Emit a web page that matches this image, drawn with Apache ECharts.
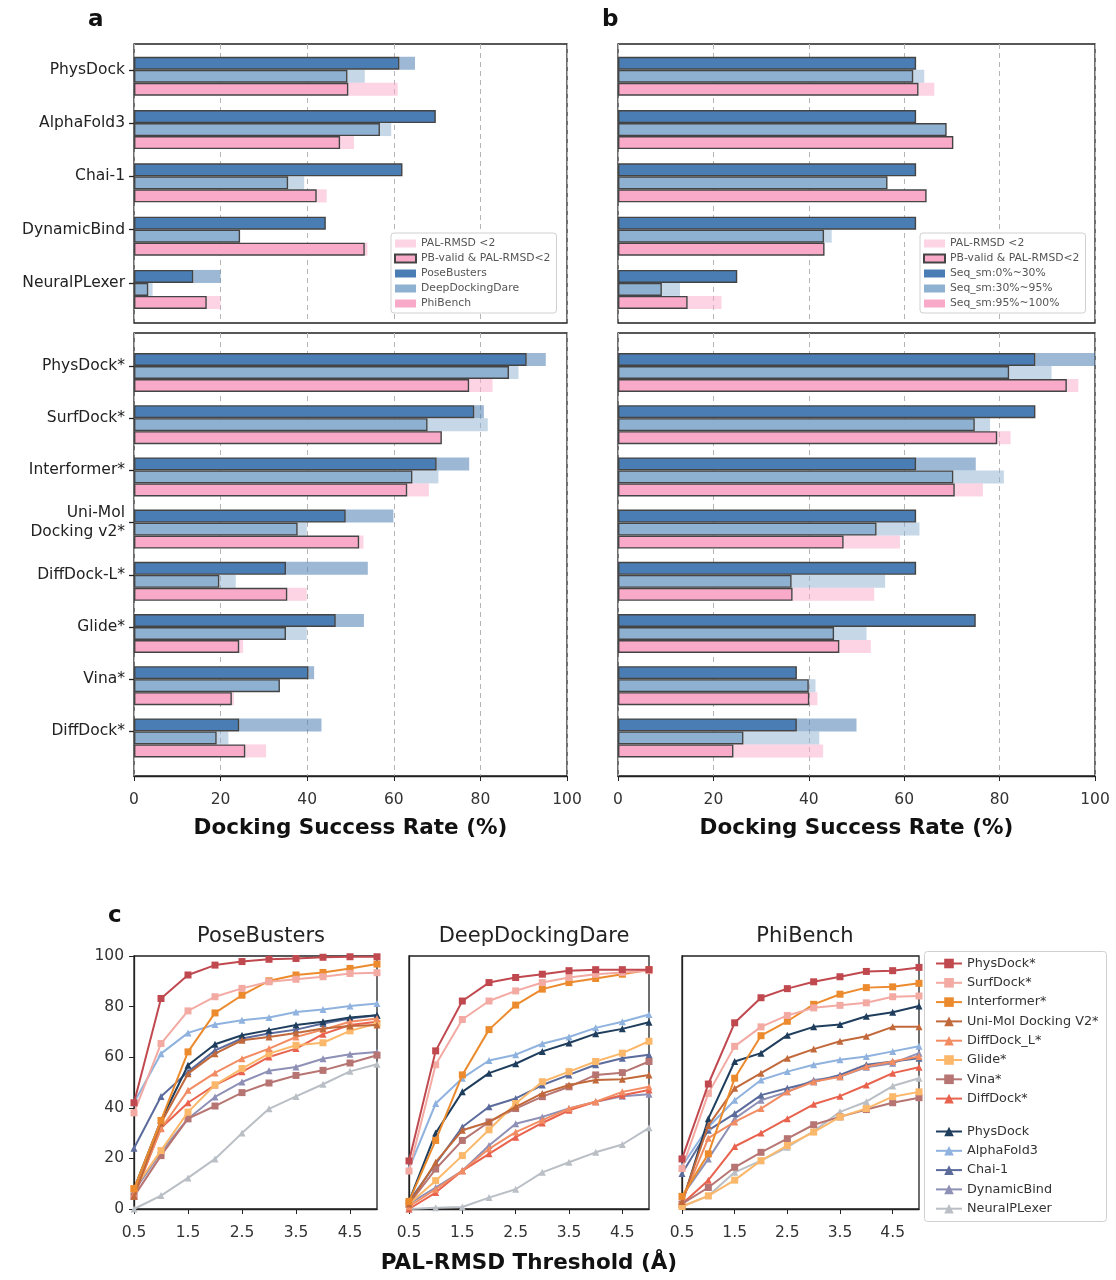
<!DOCTYPE html>
<html>
<head>
<meta charset="utf-8">
<title>Docking success rate</title>
<script src="https://cdn.jsdelivr.net/npm/echarts@6/dist/echarts.min.js"></script>
<style>
html, body { margin: 0; padding: 0; background: #fff; }
#chart { width: 1116px; height: 1280px; }
</style>
</head>
<body>
<div id="chart"></div>
<script>
// ---------- panel a / b categories
const methodsTop = ['PhysDock', 'AlphaFold3', 'Chai-1', 'DynamicBind', 'NeuralPLexer'];
const methodsBottom = ['PhysDock*', 'SurfDock*', 'Interformer*', 'Uni-Mol\nDocking v2*', 'DiffDock-L*', 'Glide*', 'Vina*', 'DiffDock*'];
const rateTicks = [0, 20, 40, 60, 80, 100];

// panel a, top (PB-valid & PAL-RMSD<2 / PAL-RMSD<2)
const aTopPoseBustersValid = [61.3, 69.7, 62.0, 44.3, 13.7];
const aTopPoseBustersPal   = [64.9, 69.7, 62.0, 44.3, 20.0];
const aTopDeepDockValid    = [49.3, 56.8, 35.6, 24.5, 3.3];
const aTopDeepDockPal      = [53.3, 59.4, 39.3, 24.5, 4.3];
const aTopPhiBenchValid    = [49.5, 47.6, 42.2, 53.3, 16.8];
const aTopPhiBenchPal      = [60.9, 50.8, 44.5, 53.9, 20.0];

// panel a, bottom
const aBotPoseBustersValid = [90.7, 78.6, 69.9, 48.9, 35.1, 46.6, 40.3, 24.3];
const aBotPoseBustersPal   = [95.1, 80.8, 77.4, 59.9, 54.0, 53.1, 41.6, 43.3];
const aBotDeepDockValid    = [86.6, 67.8, 64.3, 37.8, 19.7, 35.1, 33.7, 19.1];
const aBotDeepDockPal      = [88.8, 81.7, 70.3, 39.9, 23.5, 39.9, 33.7, 21.8];
const aBotPhiBenchValid    = [77.4, 71.1, 63.1, 52.0, 35.4, 24.3, 22.6, 25.7];
const aBotPhiBenchPal      = [82.8, 71.1, 68.1, 53.0, 39.9, 25.2, 23.1, 30.5];

// panel b, top (sequence similarity bins)
const bTopSeqLowValid  = [62.5, 62.5, 62.5, 62.5, 25.0];
const bTopSeqLowPal    = [62.5, 62.5, 62.5, 62.5, 25.0];
const bTopSeqMidValid  = [61.9, 68.9, 56.5, 43.2, 9.2];
const bTopSeqMidPal    = [64.2, 68.9, 56.5, 44.8, 13.0];
const bTopSeqHighValid = [63.0, 70.3, 64.7, 43.3, 14.6];
const bTopSeqHighPal   = [66.3, 70.3, 64.7, 43.3, 21.7];

// panel b, bottom
const bBotSeqLowValid  = [87.5, 87.5, 62.5, 62.5, 62.5, 75.0, 37.5, 37.5];
const bBotSeqLowPal    = [100, 87.5, 75.0, 62.5, 62.5, 75.0, 37.5, 50.0];
const bBotSeqMidValid  = [82.0, 74.8, 70.3, 54.2, 36.4, 45.3, 40.0, 26.3];
const bBotSeqMidPal    = [90.9, 78.0, 80.9, 63.2, 56.0, 52.1, 41.4, 42.2];
const bBotSeqHighValid = [94.1, 79.5, 70.6, 47.3, 36.6, 46.4, 40.1, 24.2];
const bBotSeqHighPal   = [96.5, 82.3, 76.5, 59.1, 53.7, 53.0, 41.8, 43.0];

// ---------- panel c
const thresholds = ['0.5', '1.0', '1.5', '2.0', '2.5', '3.0', '3.5', '4.0', '4.5', '5.0'];
const benchmarks = ['PoseBusters', 'DeepDockingDare', 'PhiBench'];
const curveMethods = ['PhysDock*', 'SurfDock*', 'Interformer*', 'Uni-Mol Docking V2*', 'DiffDock_L*', 'Glide*', 'Vina*', 'DiffDock*',
  'PhysDock', 'AlphaFold3', 'Chai-1', 'DynamicBind', 'NeuralPLexer'];
const curveColors = ['#c0484f', '#f2aaa3', '#ec8b2e', '#c1693b', '#f28c63', '#fbb86a', '#b67572', '#e8624d',
  '#1f3d5c', '#8fb2de', '#5b6b9b', '#8e90b6', '#b9bfc5'];
const curveSymbols = ['rect', 'rect', 'rect', 'triangle', 'triangle', 'rect', 'rect', 'triangle',
  'triangle', 'triangle', 'triangle', 'triangle', 'triangle'];

// rows follow curveMethods order
const poseBustersCurves = [
  [42, 83.2, 92.5, 96.4, 97.8, 98.7, 99.0, 99.5, 99.7, 99.7],
  [38, 65.4, 78.3, 83.9, 87.2, 89.8, 90.8, 91.8, 93.1, 93.4],
  [8, 35.0, 62.1, 77.5, 84.5, 90.2, 92.5, 93.5, 95.1, 96.8],
  [5, 34.0, 53.5, 61.4, 66.7, 68.0, 69.6, 71.3, 72.3, 72.7],
  [6, 31.7, 46.9, 53.8, 59.4, 63.4, 68.0, 70.9, 74.0, 75.3],
  [8, 23.1, 38.3, 49.1, 55.5, 61.4, 64.7, 65.7, 70.4, 73.3],
  [5, 21.1, 35.7, 40.7, 46.0, 49.8, 52.8, 54.8, 57.7, 60.8],
  [5, 32.0, 42.0, 49.0, 54.2, 60.1, 63.4, 69.1, 72.7, 74.0],
  [8, 35.0, 56.8, 65.1, 68.7, 70.7, 72.7, 74.0, 75.7, 76.6],
  [42, 61.4, 69.6, 72.9, 74.6, 75.7, 77.9, 78.9, 80.2, 81.2],
  [24, 44.5, 54.2, 62.7, 67.4, 69.4, 70.9, 73.3, 75.3, 76.6],
  [7, 22.5, 35.7, 44.3, 50.2, 54.6, 56.1, 59.4, 61.2, 62.1],
  [0, 5.3, 12.3, 19.8, 30.0, 39.6, 44.5, 49.3, 54.4, 57.2]
];
const deepDockCurves = [
  [19, 62.5, 82.2, 89.5, 91.5, 92.8, 94.2, 94.6, 94.6, 94.6],
  [15, 57.0, 74.9, 82.2, 86.2, 89.5, 91.5, 92.8, 93.5, 94.2],
  [3, 27.1, 53.0, 70.9, 80.6, 86.9, 89.5, 91.1, 92.8, 94.6],
  [2, 18.5, 31.1, 34.4, 40.4, 45.7, 49.0, 51.0, 51.3, 53.0],
  [1, 7.8, 15.1, 23.8, 30.4, 35.1, 39.7, 42.4, 46.3, 48.3],
  [2, 11.2, 21.1, 31.3, 41.7, 50.3, 54.3, 58.3, 61.6, 66.3],
  [2, 15.8, 27.1, 34.4, 39.7, 44.4, 48.3, 53.0, 53.9, 58.3],
  [0, 6.5, 15.1, 21.8, 28.4, 34.0, 39.0, 42.4, 45.0, 47.0],
  [3, 30.0, 46.3, 53.7, 57.4, 62.3, 65.6, 69.3, 71.2, 73.8],
  [16, 41.7, 51.7, 58.7, 61.0, 65.3, 68.0, 71.6, 74.0, 76.9],
  [3, 17.8, 32.4, 40.4, 43.7, 49.0, 53.0, 57.0, 59.6, 61.0],
  [2, 8.5, 15.1, 25.1, 33.7, 36.4, 39.7, 42.4, 44.6, 45.4],
  [0, 0.5, 0.8, 4.5, 7.8, 14.5, 18.5, 22.4, 25.5, 32.1]
];
const phiBenchCurves = [
  [19.8, 49.4, 73.6, 83.5, 87.1, 89.8, 91.8, 93.9, 94.2, 95.5],
  [16, 45.7, 64.3, 72.0, 76.5, 79.5, 80.5, 81.5, 83.9, 84.2],
  [5, 21.8, 51.7, 68.5, 74.2, 80.9, 84.9, 87.5, 87.8, 89.2],
  [3, 33.0, 47.7, 53.7, 59.6, 63.2, 66.3, 68.3, 72.0, 72.0],
  [3, 28.0, 34.4, 39.7, 46.3, 50.3, 52.3, 56.3, 58.3, 60.3],
  [1, 5.2, 11.4, 19.1, 25.1, 30.4, 36.4, 39.7, 44.4, 46.3],
  [2, 8.5, 16.5, 22.4, 27.8, 33.3, 36.4, 39.3, 42.0, 44.0],
  [2, 11.4, 24.7, 30.0, 35.7, 41.4, 44.6, 49.0, 53.7, 56.0],
  [2, 35.7, 58.3, 61.6, 68.7, 72.0, 72.9, 76.2, 77.8, 80.2],
  [17, 32.4, 43.0, 51.0, 54.3, 57.0, 59.0, 60.3, 62.3, 64.3],
  [14, 31.1, 37.7, 45.0, 47.7, 50.3, 53.0, 57.0, 58.3, 59.6],
  [5, 19.8, 35.7, 43.0, 46.3, 51.0, 52.3, 56.0, 57.6, 61.6],
  [1, 5.2, 14.5, 19.1, 24.4, 30.8, 38.4, 42.4, 48.6, 51.7]
];

const FONT = 'DejaVu Sans';
const EDGE = '#444';

// bar colours
const blueDark = '#4a7db3', blueDarkLight = 'rgba(74,125,179,0.55)';
const blueMid = '#8eb1d1', blueMidLight = 'rgba(142,177,209,0.5)';
const pink = '#f9aac8', pinkLight = 'rgba(249,170,200,0.5)';

const chart = echarts.init(document.getElementById('chart'));

// grid layout: frames (0-3), line plots (4-6), bar areas (7-10), label bands (11-12)
const frame = { show: true, borderColor: '#222', borderWidth: 1.3, backgroundColor: '#fff' };
const grids = [
  Object.assign({ left: 134, top: 44, width: 433, height: 279 }, frame),
  Object.assign({ left: 134, top: 333, width: 433, height: 443 }, frame),
  Object.assign({ left: 618, top: 44, width: 477, height: 279 }, frame),
  Object.assign({ left: 618, top: 333, width: 477, height: 443 }, frame),
  Object.assign({ left: 134, top: 956, width: 243, height: 253 }, frame),
  Object.assign({ left: 409, top: 956, width: 240, height: 253 }, frame),
  Object.assign({ left: 682, top: 956, width: 237, height: 253 }, frame),
  { left: 134, top: 49.6, width: 433, height: 266.5 },
  { left: 134, top: 346.4, width: 433, height: 417.6 },
  { left: 618, top: 49.6, width: 477, height: 266.5 },
  { left: 618, top: 346.4, width: 477, height: 417.6 },
  { left: 134, top: 43.1, width: 433, height: 266.5 },
  { left: 134, top: 339.9, width: 433, height: 417.6 }
];

// solid bar (PB-valid) + pale extension up to PAL-RMSD<2
function barPair(name, valid, pal, color, light, gi, stack) {
  const common = {
    type: 'bar', xAxisIndex: gi, yAxisIndex: gi, stack: stack,
    barWidth: 13, barGap: '0%'
  };
  return [
    Object.assign({}, common, {
      name: name, data: valid, z: 3,
      itemStyle: { color: color, borderColor: EDGE, borderWidth: 1.4 }
    }),
    Object.assign({}, common, {
      name: name + ' (PAL)',
      data: pal.map((v, i) => +(Math.max(0, v - valid[i])).toFixed(1)),
      z: 2,
      itemStyle: { color: light }
    })
  ];
}

// legend-only entries
function legendDummies(gi, stack) {
  return [
    { type: 'bar', name: 'PAL-RMSD <2', xAxisIndex: gi, yAxisIndex: gi, stack: stack, data: [],
      barWidth: 13, barGap: '0%', itemStyle: { color: pinkLight } },
    { type: 'bar', name: 'PB-valid & PAL-RMSD<2', xAxisIndex: gi, yAxisIndex: gi, stack: stack, data: [],
      barWidth: 13, barGap: '0%', itemStyle: { color: pink, borderColor: EDGE, borderWidth: 1.4 } }
  ];
}

const series = [].concat(
  barPair('PoseBusters', aTopPoseBustersValid, aTopPoseBustersPal, blueDark, blueDarkLight, 7, 'a0'),
  barPair('DeepDockingDare', aTopDeepDockValid, aTopDeepDockPal, blueMid, blueMidLight, 7, 'a1'),
  barPair('PhiBench', aTopPhiBenchValid, aTopPhiBenchPal, pink, pinkLight, 7, 'a2'),
  legendDummies(7, 'a2'),
  barPair('PoseBusters', aBotPoseBustersValid, aBotPoseBustersPal, blueDark, blueDarkLight, 8, 'b0'),
  barPair('DeepDockingDare', aBotDeepDockValid, aBotDeepDockPal, blueMid, blueMidLight, 8, 'b1'),
  barPair('PhiBench', aBotPhiBenchValid, aBotPhiBenchPal, pink, pinkLight, 8, 'b2'),
  barPair('Seq_sm:0%~30%', bTopSeqLowValid, bTopSeqLowPal, blueDark, blueDarkLight, 9, 'c0'),
  barPair('Seq_sm:30%~95%', bTopSeqMidValid, bTopSeqMidPal, blueMid, blueMidLight, 9, 'c1'),
  barPair('Seq_sm:95%~100%', bTopSeqHighValid, bTopSeqHighPal, pink, pinkLight, 9, 'c2'),
  barPair('Seq_sm:0%~30%', bBotSeqLowValid, bBotSeqLowPal, blueDark, blueDarkLight, 10, 'd0'),
  barPair('Seq_sm:30%~95%', bBotSeqMidValid, bBotSeqMidPal, blueMid, blueMidLight, 10, 'd1'),
  barPair('Seq_sm:95%~100%', bBotSeqHighValid, bBotSeqHighPal, pink, pinkLight, 10, 'd2')
);

[poseBustersCurves, deepDockCurves, phiBenchCurves].forEach((curves, k) => {
  curves.forEach((vals, i) => {
    series.push({
      type: 'line', name: curveMethods[i], data: vals,
      xAxisIndex: 4 + k, yAxisIndex: 4 + k,
      symbol: curveSymbols[i], symbolSize: 7,
      color: curveColors[i],
      lineStyle: { width: 2, color: curveColors[i] },
      itemStyle: { color: curveColors[i] },
      z: 20 - i
    });
  });
});

function hiddenValue(gi) {
  return {
    type: 'value', gridIndex: gi, min: 0, max: 100, show: false,
    splitLine: { show: false }
  };
}

function hiddenCategory(gi, cats) {
  return { type: 'category', gridIndex: gi, data: cats, inverse: true, show: false };
}

function rateAxis(gi, showLabels) {
  return {
    type: 'value', gridIndex: gi, min: rateTicks[0], max: rateTicks[rateTicks.length - 1], interval: 20,
    axisLine: { show: showLabels, lineStyle: { color: '#222', width: 1.3 } },
    axisTick: { show: showLabels, length: 5, lineStyle: { color: '#222' } },
    axisLabel: { show: showLabels, fontFamily: FONT, fontSize: 15.5, color: '#333', margin: 16 },
    splitLine: { show: true, lineStyle: { type: [5, 4], color: '#b5b5b5', width: 1 } },
    name: showLabels ? 'Docking Success Rate (%)' : '',
    nameLocation: 'middle', nameGap: 41,
    nameTextStyle: { fontFamily: FONT, fontSize: 21.5, fontWeight: 'bold', color: '#111' }
  };
}

function methodAxis(gi, cats) {
  return {
    type: 'category', gridIndex: gi, data: cats, inverse: true,
    axisLine: { show: false },
    axisTick: { show: true, alignWithLabel: true, length: 5, lineStyle: { color: '#222', width: 1.3 } },
    axisLabel: { fontFamily: FONT, fontSize: 15.5, color: '#222', margin: 9, lineHeight: 19 }
  };
}

function thresholdAxis(gi, withName) {
  return {
    type: 'category', gridIndex: gi, data: thresholds, boundaryGap: false,
    axisLine: { show: true, lineStyle: { color: '#222', width: 1.3 } },
    axisTick: { show: true, interval: 1, length: 5, lineStyle: { color: '#222' } },
    axisLabel: { interval: 1, fontFamily: FONT, fontSize: 15.5, color: '#333', margin: 16 },
    splitLine: { show: false },
    name: withName ? 'PAL-RMSD Threshold (\u00c5)' : '',
    nameLocation: 'middle', nameGap: 43,
    nameTextStyle: { fontFamily: FONT, fontSize: 21.5, fontWeight: 'bold', color: '#111' }
  };
}

function percentAxis(gi, showLabels) {
  return {
    type: 'value', gridIndex: gi, min: 0, max: 100, interval: 20,
    axisLine: { show: true, lineStyle: { color: '#222', width: 1.3 } },
    axisTick: { show: showLabels, length: 5, lineStyle: { color: '#222' } },
    axisLabel: { show: showLabels, fontFamily: FONT, fontSize: 15.5, color: '#333', margin: 10 },
    splitLine: { show: false }
  };
}

const barLegendBase = {
  orient: 'vertical', icon: 'rect', itemWidth: 21, itemHeight: 8, itemGap: 4,
  backgroundColor: '#fff', borderColor: '#d0d0d0', borderWidth: 1, borderRadius: 3,
  padding: [5, 6, 4, 3], selectedMode: false,
  textStyle: { fontFamily: FONT, fontSize: 10.8, color: '#555' }
};

const curveLegendBase = {
  orient: 'vertical', itemWidth: 26, itemHeight: 12, itemGap: 6.3, selectedMode: false,
  textStyle: { fontFamily: FONT, fontSize: 12.8, color: '#333' }
};

const letterStyle = { fontFamily: FONT, fontSize: 23, fontWeight: 'bold', color: '#111' };

const option = {
  animation: false,
  backgroundColor: '#fff',
  textStyle: { fontFamily: FONT },
  title: [
    { text: 'a', left: 83, top: 4, textStyle: letterStyle },
    { text: 'b', left: 597, top: 4, textStyle: letterStyle },
    { text: 'c', left: 103, top: 900, textStyle: letterStyle }
  ].concat(benchmarks.map((b, k) => ({
    text: b, left: [256, 529, 800][k], top: 921, textAlign: 'center',
    textStyle: { fontFamily: FONT, fontSize: 21, fontWeight: 'normal', color: '#222' }
  }))),
  legend: [
    Object.assign({}, barLegendBase, {
      left: 391, top: 233,
      data: ['PAL-RMSD <2', 'PB-valid & PAL-RMSD<2',
        { name: 'PoseBusters', itemStyle: { borderWidth: 0 } },
        { name: 'DeepDockingDare', itemStyle: { borderWidth: 0 } },
        { name: 'PhiBench', itemStyle: { borderWidth: 0 } }]
    }),
    Object.assign({}, barLegendBase, {
      left: 920, top: 233,
      data: ['PAL-RMSD <2', 'PB-valid & PAL-RMSD<2',
        { name: 'Seq_sm:0%~30%', itemStyle: { borderWidth: 0 } },
        { name: 'Seq_sm:30%~95%', itemStyle: { borderWidth: 0 } },
        { name: 'Seq_sm:95%~100%', itemStyle: { borderWidth: 0 } }]
    }),
    Object.assign({}, curveLegendBase, { left: 930, top: 952, data: curveMethods.slice(0, 8) }),
    Object.assign({}, curveLegendBase, { left: 930, top: 1120, data: curveMethods.slice(8) })
  ],
  graphic: [
    { type: 'rect', left: 924, top: 951, shape: { width: 182, height: 270, r: 3 },
      style: { fill: '#fff', stroke: '#d0d0d0', lineWidth: 1 }, z: -1 }
  ],
  grid: grids,
  xAxis: [
    rateAxis(0, false), rateAxis(1, true), rateAxis(2, false), rateAxis(3, true),
    thresholdAxis(4, false), thresholdAxis(5, true), thresholdAxis(6, false),
    hiddenValue(7), hiddenValue(8), hiddenValue(9), hiddenValue(10),
    hiddenValue(11), hiddenValue(12)
  ],
  yAxis: [
    hiddenValue(0), hiddenValue(1), hiddenValue(2), hiddenValue(3),
    percentAxis(4, true), percentAxis(5, false), percentAxis(6, false),
    hiddenCategory(7, methodsTop), hiddenCategory(8, methodsBottom),
    hiddenCategory(9, methodsTop), hiddenCategory(10, methodsBottom),
    methodAxis(11, methodsTop), methodAxis(12, methodsBottom)
  ],
  series: series
};

chart.setOption(option);
window.addEventListener('resize', () => chart.resize());
</script>
</body>
</html>
